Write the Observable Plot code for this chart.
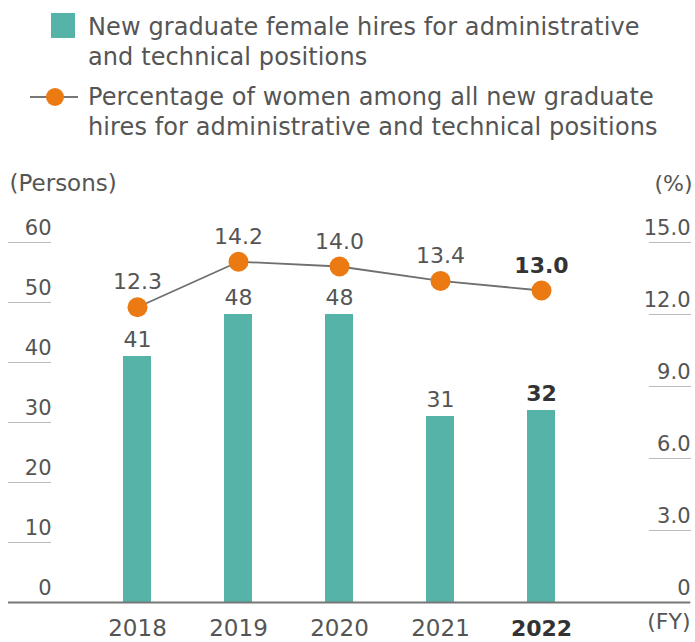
<!DOCTYPE html>
<html><head><meta charset="utf-8">
<script src="https://cdn.jsdelivr.net/npm/d3@7"></script>
<script src="https://cdn.jsdelivr.net/npm/@observablehq/plot@0.6"></script>
<style>
body{margin:0;background:#fff;font-family:"DejaVu Sans",sans-serif;color:#555;}
#legend{position:relative;height:150px;width:695px;}
.item{position:absolute;left:88px;font-size:24px;line-height:30px;letter-spacing:0.1px;white-space:nowrap;}
.sw{position:absolute;left:51px;top:13px;width:24px;height:25px;background:#55b4a7;}
.lm{position:absolute;left:28px;top:86px;}
</style>
</head><body>
<div id="legend">
  <div class="sw"></div>
  <div class="item" style="top:12px">New graduate female hires for administrative<br>and technical positions</div>
  <svg class="lm" width="52" height="22"><line x1="2" y1="11" x2="50" y2="11" stroke="#777" stroke-width="2"/><circle cx="27" cy="11" r="9" fill="#ec7a12"/></svg>
  <div class="item" style="top:82px">Percentage of women among all new graduate<br>hires for administrative and technical positions</div>
</div>
<div id="chart"></div>
<script>
const years = ["2018", "2019", "2020", "2021", "2022"];
const hires = [41, 48, 48, 31, 32];
const pctWomen = [12.3, 14.2, 14.0, 13.4, 13.0];
const leftTicks = [0, 10, 20, 30, 40, 50, 60];
const rightTicks = [0, 3, 6, 9, 12, 15];
const highlightYear = "2022";
const leftUnit = "(Persons)";
const rightUnit = "(%)";
const xUnit = "(FY)";

const teal = "#55b4a7", orange = "#ec7a12", textCol = "#555", boldCol = "#333";
const data = years.map((year, i) => ({year, hires: hires[i], pct: pctWomen[i]}));
const k = 60 / 15; // right axis 0–15 % shares the 0–60 persons range
const pY = d => d.pct * k;
const norm = d => d.year !== highlightYear;
const hi = d => d.year === highlightYear;
const rightLabel = t => t === 0 ? "0" : t.toFixed(1);

const chart = Plot.plot({
  width: 695, height: 492,
  marginLeft: 51, marginRight: 47, marginTop: 92, marginBottom: 40,
  style: {fontFamily: "DejaVu Sans, sans-serif", color: textCol, background: "#fff"},
  x: {type: "band", domain: years, range: [85.4, 591.6], paddingInner: 0.727, paddingOuter: 0.3635, label: null},
  y: {domain: [0, 60], label: null},
  marks: [
    // tick underlines
    Plot.axisY(leftTicks, {anchor: "left", tickSize: 43, tickFormat: () => "", stroke: "#bbb", label: null}),
    Plot.axisY(rightTicks.map(t => t * k), {anchor: "right", tickSize: 42, tickFormat: () => "", stroke: "#bbb", label: null}),
    // tick labels, sitting above the underlines
    Plot.text(leftTicks, {y: d => d, text: d => String(d), frameAnchor: "left", textAnchor: "end", dy: -14, fontSize: 21, fill: textCol}),
    Plot.text(rightTicks, {y: d => d * k, text: rightLabel, frameAnchor: "right", textAnchor: "end", dx: 42, dy: -14, fontSize: 21, fill: textCol}),
    Plot.barY(data, {x: "year", y: "hires", fill: teal}),
    Plot.ruleY([0], {stroke: "#777", strokeWidth: 2, insetLeft: -43, insetRight: -42}),
    Plot.text(data, {filter: norm, x: "year", y: "hires", text: d => String(d.hires), dy: -17, fontSize: 22, fill: textCol}),
    Plot.text(data, {filter: hi, x: "year", y: "hires", text: d => String(d.hires), dy: -17, fontSize: 22, fontWeight: "bold", fill: boldCol}),
    Plot.line(data, {x: "year", y: pY, stroke: "#6f6f6f", strokeWidth: 1.8}),
    Plot.dot(data, {x: "year", y: pY, r: 10, fill: orange}),
    Plot.text(data, {filter: norm, x: "year", y: pY, text: d => d.pct.toFixed(1), dy: -25, fontSize: 22, fill: textCol}),
    Plot.text(data, {filter: hi, x: "year", y: pY, text: d => d.pct.toFixed(1), dy: -25, fontSize: 22, fontWeight: "bold", fill: boldCol}),
    Plot.axisX(years.filter(y => y !== highlightYear), {anchor: "bottom", tickSize: 0, tickPadding: 26, lineAnchor: "middle", fontSize: 23, fill: textCol, label: null}),
    Plot.axisX([highlightYear], {anchor: "bottom", tickSize: 0, tickPadding: 26, lineAnchor: "middle", fontSize: 22, fontWeight: "bold", fill: boldCol, label: null}),
    Plot.text([leftUnit], {frameAnchor: "top-left", text: d => d, dx: -42, dy: -68, textAnchor: "start", fontSize: 23, fill: textCol}),
    Plot.text([rightUnit], {frameAnchor: "top-right", text: d => d, dx: 44, dy: -67, textAnchor: "end", fontSize: 22, fill: textCol}),
    Plot.text([xUnit], {frameAnchor: "bottom-right", text: d => d, dx: 42, dy: 26, textAnchor: "end", fontSize: 22, fill: textCol})
  ]
});
document.getElementById("chart").appendChild(chart);
</script>
</body></html>
